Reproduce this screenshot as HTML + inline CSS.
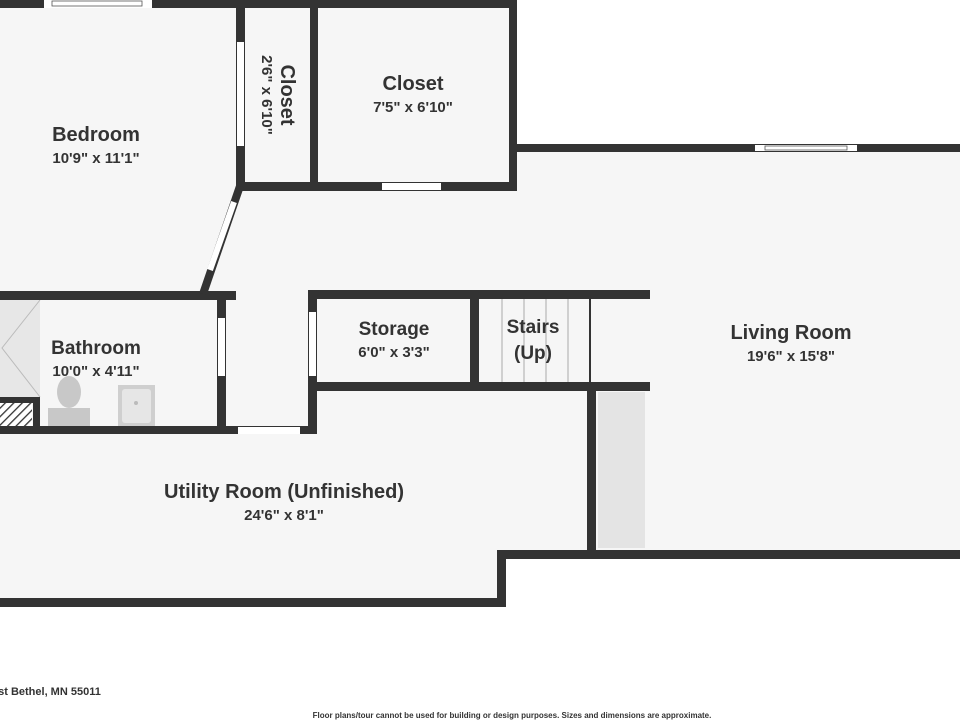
<!DOCTYPE html>
<html><head><meta charset="utf-8"><style>
html,body{margin:0;padding:0;background:#fff;width:960px;height:720px;overflow:hidden}
svg{display:block}
text{font-family:"Liberation Sans",sans-serif;fill:#333;font-weight:bold}
</style></head><body>
<svg width="960" height="720" viewBox="0 0 960 720" xmlns="http://www.w3.org/2000/svg">
<defs>
<pattern id="h" width="6" height="6" patternUnits="userSpaceOnUse" patternTransform="rotate(45)">
<rect width="6" height="6" fill="#fff"/><rect width="1.3" height="6" fill="#333"/></pattern>
</defs>
<polygon points="0,0 517,0 517,148 960,148 960,555 502,555 502,603 0,603" fill="#f6f6f6"/>
<rect x="0" y="300" width="40" height="97" fill="#e7e7e7"/>
<polyline points="40,300 2,348 40,397" fill="none" stroke="#bbb" stroke-width="1"/>
<rect x="0" y="403" width="32" height="23" fill="url(#h)"/>
<rect x="0" y="397" width="40" height="6" fill="#333"/>
<rect x="33" y="397" width="7" height="30" fill="#333"/>
<ellipse cx="69" cy="392" rx="12" ry="16" fill="#c8c8c8"/>
<rect x="48" y="408" width="42" height="19" fill="#c8c8c8"/>
<rect x="118" y="385" width="37" height="41" fill="#cfcfcf"/>
<rect x="122" y="389" width="29" height="34" rx="3" fill="#e6e6e6"/>
<circle cx="136" cy="403" r="2" fill="#bbb"/>
<rect x="598" y="392" width="47" height="156" fill="#e4e4e4"/>
<g stroke="#aaa" stroke-width="1">
<line x1="502" y1="299" x2="502" y2="382"/><line x1="524" y1="299" x2="524" y2="382"/>
<line x1="546" y1="299" x2="546" y2="382"/><line x1="568" y1="299" x2="568" y2="382"/>
</g>
<rect x="589" y="299" width="2" height="84" fill="#333"/>
<g fill="#333">
<rect x="0" y="0" width="517" height="8"/>
<rect x="236" y="0" width="9" height="190"/>
<rect x="310" y="0" width="8" height="190"/>
<rect x="509" y="0" width="8" height="190"/>
<rect x="236" y="182" width="281" height="9"/>
<rect x="509" y="144" width="451" height="8"/>
<rect x="0" y="291" width="236" height="9"/>
<rect x="217" y="291" width="9" height="143"/>
<rect x="0" y="426" width="317" height="8"/>
<rect x="308" y="290" width="9" height="144"/>
<rect x="308" y="290" width="342" height="9"/>
<rect x="470" y="290" width="9" height="100"/>
<rect x="308" y="382" width="342" height="9"/>
<rect x="587" y="382" width="9" height="176"/>
<rect x="497" y="550" width="463" height="9"/>
<rect x="497" y="550" width="9" height="57"/>
<rect x="0" y="598" width="506" height="9"/>
</g>
<line x1="240" y1="186" x2="203" y2="294" stroke="#333" stroke-width="8"/>
<g fill="#fff">
<rect x="44" y="0" width="108" height="8"/>
<rect x="237" y="42" width="7" height="104"/>
<rect x="382" y="183" width="59" height="7"/>
<rect x="755" y="145" width="102" height="6"/>
<rect x="218" y="318" width="7" height="58"/>
<rect x="309" y="312" width="7" height="64"/>
<rect x="238" y="427" width="62" height="7"/>
</g>
<line x1="234" y1="202" x2="210" y2="270" stroke="#fff" stroke-width="6"/>
<g fill="none" stroke="#555" stroke-width="0.8">
<rect x="52" y="1" width="90" height="5"/>
<rect x="765" y="146" width="82" height="4"/>
</g>
<g text-anchor="middle">
<text x="96" y="141" font-size="20">Bedroom</text>
<text x="96" y="163" font-size="15">10'9" x 11'1"</text>
<text transform="translate(281,95) rotate(90)" font-size="20">Closet</text>
<text transform="translate(262,95) rotate(90)" font-size="15">2'6" x 6'10"</text>
<text x="413" y="90" font-size="20">Closet</text>
<text x="413" y="112" font-size="15">7'5" x 6'10"</text>
<text x="394" y="335" font-size="19">Storage</text>
<text x="394" y="357" font-size="15">6'0" x 3'3"</text>
<text x="533" y="333" font-size="19">Stairs</text>
<text x="533" y="359" font-size="19">(Up)</text>
<text x="791" y="339" font-size="20">Living Room</text>
<text x="791" y="361" font-size="15">19'6" x 15'8"</text>
<text x="96" y="354" font-size="19">Bathroom</text>
<text x="96" y="376" font-size="15">10'0" x 4'11"</text>
<text x="284" y="498" font-size="20">Utility Room (Unfinished)</text>
<text x="284" y="520" font-size="15">24'6" x 8'1"</text>
<text x="512" y="718" font-size="8">Floor plans/tour cannot be used for building or design purposes. Sizes and dimensions are approximate.</text>
</g>
<text x="-8" y="695" font-size="11">ast Bethel, MN 55011</text>
</svg>
</body></html>
